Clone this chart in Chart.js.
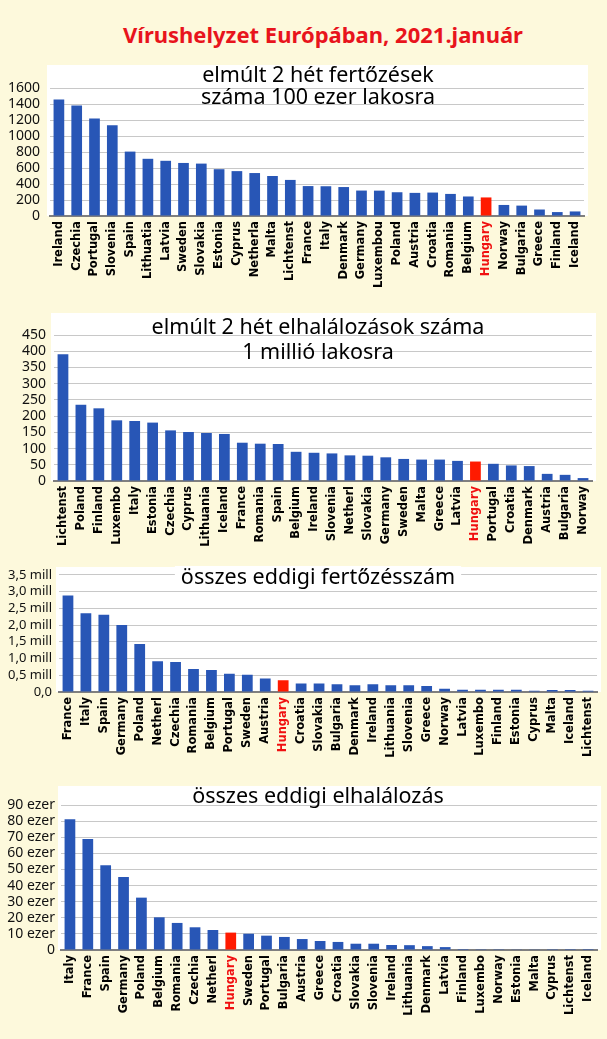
<!DOCTYPE html>
<html>
<head>
<meta charset="utf-8">
<script src="https://cdn.jsdelivr.net/npm/chart.js@4"></script>
<style>
  body { margin: 0; background: #fdf9dc; width: 607px; height: 1039px; position: relative; overflow: hidden; font-family: 'Noto Sans', sans-serif; }
  #title { position: absolute; left: 0; width: 646px; top: 19px; text-align: center; color: #e8141c; font-weight: bold; font-size: 22px; line-height: 30px; }
  canvas { position: absolute; left: 0; }
</style>
</head>
<body>
<div id="title">Vírushelyzet Európában, 2021.január</div>
<canvas id="c1" width="607" height="225" style="top:65px"></canvas>
<canvas id="c2" width="607" height="240" style="top:313px"></canvas>
<canvas id="c3" width="607" height="222" style="top:560px"></canvas>
<canvas id="c4" width="607" height="253" style="top:786px"></canvas>
<script>
// elmúlt 2 hét fertőzések / 100 ezer lakos
const casesLabels = ['Ireland', 'Czechia', 'Portugal', 'Slovenia', 'Spain', 'Lithuatia', 'Latvia', 'Sweden', 'Slovakia', 'Estonia',
  'Cyprus', 'Netherla', 'Malta', 'Lichtenst', 'France', 'Italy', 'Denmark', 'Germany', 'Luxembou', 'Poland',
  'Austria', 'Croatia', 'Romania', 'Belgium', 'Hungary', 'Norway', 'Bulgaria', 'Greece', 'Finland', 'Iceland'];
const casesValues = [1455, 1380, 1220, 1135, 805, 715, 690, 663, 655, 585,
  561, 537, 500, 451, 374, 372, 362, 318, 317, 297,
  289, 293, 276, 244, 232, 138, 130, 81, 49, 57];

// elmúlt 2 hét elhalálozások / 1 millió lakos
const deathsLabels = ['Lichtenst', 'Poland', 'Finland', 'Luxembo', 'Italy', 'Estonia', 'Czechia', 'Cyprus', 'Lithuania', 'Iceland',
  'France', 'Romania', 'Spain', 'Belgium', 'Ireland', 'Slovenia', 'Netherl', 'Slovakia', 'Germany', 'Sweden',
  'Malta', 'Greece', 'Latvia', 'Hungary', 'Portugal', 'Croatia', 'Denmark', 'Austria', 'Bulgaria', 'Norway'];
const deathsValues = [391, 235, 224, 187, 185, 180, 156, 151, 148, 145,
  118, 115, 114, 90, 87, 85, 79, 78, 73, 68,
  66, 66, 62, 60, 53, 48, 46, 22, 19, 9];

// összes eddigi fertőzésszám (millió)
const totalCasesLabels = ['France', 'Italy', 'Spain', 'Germany', 'Poland', 'Netherl', 'Czechia', 'Romania', 'Belgium', 'Portugal',
  'Sweden', 'Austria', 'Hungary', 'Croatia', 'Slovakia', 'Bulgaria', 'Denmark', 'Ireland', 'Lithuania', 'Slovenia',
  'Greece', 'Norway', 'Latvia', 'Luxembo', 'Finland', 'Estonia', 'Cyprus', 'Malta', 'Iceland', 'Lichtenst'];
const totalCasesValues = [2.88, 2.35, 2.31, 2.0, 1.43, 0.915, 0.895, 0.686, 0.658, 0.543,
  0.515, 0.40, 0.353, 0.257, 0.255, 0.229, 0.2, 0.23, 0.2, 0.2,
  0.18, 0.095, 0.067, 0.066, 0.065, 0.066, 0.04, 0.06, 0.06, 0.04];

// összes eddigi elhalálozás (ezer)
const totalDeathsLabels = ['Italy', 'France', 'Spain', 'Germany', 'Poland', 'Belgium', 'Romania', 'Czechia', 'Netherl', 'Hungary',
  'Sweden', 'Portugal', 'Bulgaria', 'Austria', 'Greece', 'Croatia', 'Slovakia', 'Slovenia', 'Ireland', 'Lithuania',
  'Denmark', 'Latvia', 'Finland', 'Luxembo', 'Norway', 'Estonia', 'Malta', 'Cyprus', 'Lichtenst', 'Iceland'];
const totalDeathsValues = [81.2, 68.9, 52.6, 45.3, 32.5, 20.3, 16.8, 14.1, 12.4, 10.8,
  10.1, 8.9, 8.1, 6.8, 5.6, 5.0, 3.9, 3.9, 3.1, 3.0,
  2.4, 1.8, 0.6, 0.5, 0.5, 0.2, 0.2, 0.1, 0.05, 0.03];

const BLUE = '#2856b6';
const RED = '#ff1a00';
const FONT = "'Noto Sans', sans-serif";
const LABEL_FONT = "'DejaVu Sans', sans-serif";

// white plot background + in-plot title
const panelPlugin = {
  id: 'panel',
  beforeDraw(chart, args, o) {
    const { ctx, chartArea: a } = chart;
    ctx.save();
    ctx.fillStyle = '#fff';
    ctx.fillRect(a.left - 3, o.whiteTop, a.right - a.left + 7, a.bottom - o.whiteTop);
    ctx.restore();
  },
  afterDraw(chart, args, o) {
    const ctx = chart.ctx;
    ctx.save();
    ctx.font = '21.5px ' + FONT;
    ctx.textAlign = 'center';
    ctx.textBaseline = 'middle';
    o.lines.forEach((t, i) => {
      if (o.boxed) {
        const w = ctx.measureText(t).width;
        ctx.fillStyle = '#fff';
        ctx.fillRect(o.x - w / 2 - 6, o.y[i] - 12, w + 12, 24);
      }
      ctx.fillStyle = '#000';
      ctx.fillText(t, o.x, o.y[i]);
    });
    ctx.restore();
  }
};

function makeChart(id, labels, values, p) {
  const canvas = document.getElementById(id);
  const H = canvas.height;
  return new Chart(canvas, {
    type: 'bar',
    data: {
      labels: labels,
      datasets: [{
        data: values,
        backgroundColor: labels.map(l => l === 'Hungary' ? RED : BLUE),
        categoryPercentage: 1,
        barPercentage: 0.6
      }]
    },
    options: {
      responsive: false,
      animation: false,
      layout: { padding: { top: p.top, right: 607 - p.right, left: 0, bottom: 0 } },
      plugins: {
        legend: { display: false },
        tooltip: { enabled: false },
        panel: { lines: p.lines, y: p.lineY, x: 318, boxed: !!p.boxed, whiteTop: p.whiteTop || 0 }
      },
      scales: {
        x: {
          grid: { display: false, drawTicks: false },
          border: { color: '#7f7f7f', width: 2 },
          ticks: {
            autoSkip: false, minRotation: 90, maxRotation: 90, padding: 5,
            color: c => labels[c.index] === 'Hungary' ? '#f01010' : '#000',
            font: { family: LABEL_FONT, size: 11.5, weight: 'bold' }
          },
          afterFit: s => { s.height = H - p.bottom; }
        },
        y: {
          min: 0, max: p.max,
          grid: { color: '#c8c8c8', drawTicks: false },
          border: { display: false },
          ticks: {
            stepSize: p.step, autoSkip: false, padding: p.labelPad, color: '#111',
            font: { family: FONT, size: p.tickSize },
            callback: p.fmt
          },
          afterFit: s => { s.width = p.left; }
        }
      }
    },
    plugins: [panelPlugin]
  });
}

makeChart('c1', casesLabels, casesValues, {
  top: 23, bottom: 151, left: 50, right: 584, max: 1600, step: 200, labelPad: 10, tickSize: 14,
  fmt: v => String(v),
  lines: ['elmúlt 2 hét fertőzések', 'száma 100 ezer lakosra'], lineY: [11, 33]
});

makeChart('c2', deathsLabels, deathsValues, {
  top: 22, bottom: 168, left: 54, right: 592, max: 450, step: 50, labelPad: 8, tickSize: 14,
  fmt: v => String(v),
  lines: ['elmúlt 2 hét elhalálozások száma', '1 millió lakosra'], lineY: [15, 40]
});

makeChart('c3', totalCasesLabels, totalCasesValues, {
  top: 12, bottom: 132, left: 59, right: 599, max: 3.5, step: 0.5, labelPad: 7, tickSize: 13, whiteTop: 7,
  fmt: v => v === 0 ? '0,0' : v.toFixed(1).replace('.', ',') + ' mill',
  lines: ['összes eddigi fertőzésszám'], lineY: [18], boxed: true
});

makeChart('c4', totalDeathsLabels, totalDeathsValues, {
  top: 19, bottom: 164, left: 61, right: 605, max: 90, step: 10, labelPad: 6, tickSize: 14,
  fmt: v => v === 0 ? '0' : v + ' ezer',
  lines: ['összes eddigi elhalálozás'], lineY: [11]
});
</script>
</body>
</html>
